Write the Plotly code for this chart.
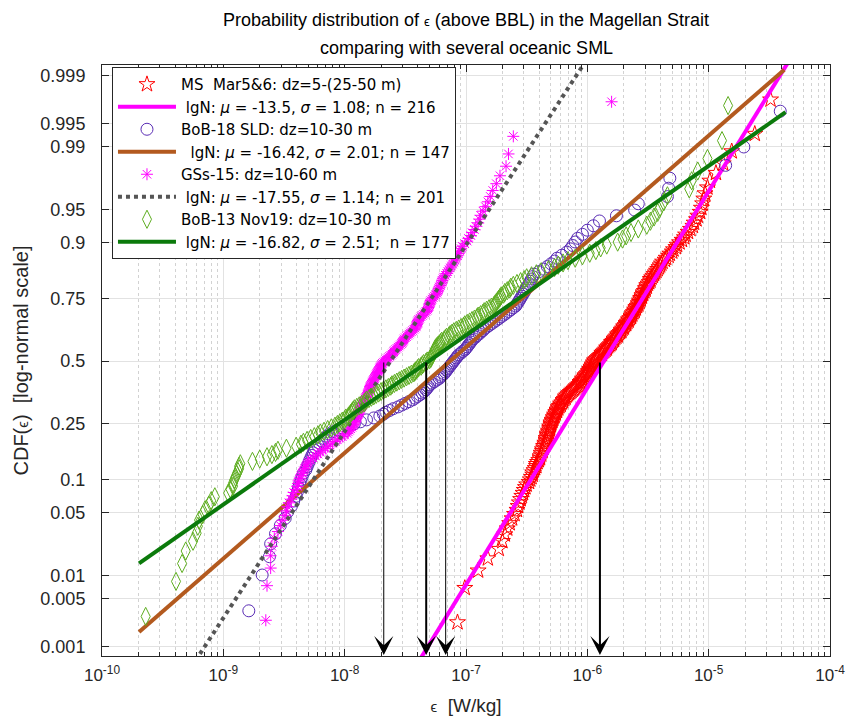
import math
from statistics import NormalDist
import plotly.graph_objects as go

ND = NormalDist()

# ---------------- data (log10 of epsilon, W/kg) ----------------
ms_log10 = [
    -7.07, -7.01, -6.90, -6.82, -6.73, -6.70, -6.68, -6.66, -6.64, -6.62,
    -6.60, -6.58, -6.57, -6.56, -6.55, -6.54, -6.53, -6.52, -6.51, -6.50, -6.48, -6.47,
    -6.46, -6.45, -6.45, -6.44, -6.43, -6.42, -6.42, -6.41, -6.40, -6.39,
    -6.39, -6.38, -6.38, -6.37, -6.37, -6.36, -6.36, -6.35, -6.35, -6.34, -6.34,
    -6.34, -6.33, -6.33, -6.33, -6.32, -6.32, -6.31, -6.31, -6.31, -6.30, -6.30,
    -6.30, -6.29, -6.29, -6.28, -6.28, -6.27, -6.27, -6.26, -6.26, -6.25, -6.25,
    -6.24, -6.24, -6.23, -6.22, -6.22, -6.21, -6.20, -6.20, -6.19, -6.18, -6.18,
    -6.17, -6.16, -6.15, -6.14, -6.13, -6.12, -6.11, -6.10, -6.09, -6.08, -6.07,
    -6.06, -6.06, -6.05, -6.04, -6.04, -6.03, -6.02, -6.02, -6.01, -6.00,
    -5.99, -5.99, -5.98, -5.98, -5.97, -5.97, -5.96, -5.96, -5.95, -5.95, -5.94,
    -5.94, -5.93, -5.92, -5.91, -5.90, -5.89, -5.88, -5.88, -5.87, -5.86, -5.85,
    -5.84, -5.84, -5.83, -5.82, -5.81, -5.80, -5.80, -5.79, -5.78, -5.78, -5.77,
    -5.76, -5.75, -5.75, -5.74, -5.73, -5.72, -5.72, -5.71, -5.70, -5.70, -5.69,
    -5.68, -5.68, -5.67, -5.66, -5.66, -5.65, -5.64, -5.64, -5.63, -5.63, -5.62,
    -5.61, -5.61, -5.60, -5.60, -5.59, -5.58, -5.58, -5.57, -5.57, -5.56,
    -5.56, -5.55, -5.55, -5.54, -5.54, -5.53, -5.52, -5.52, -5.51, -5.51, -5.50,
    -5.49, -5.48, -5.48, -5.47, -5.46, -5.45, -5.44, -5.43, -5.42, -5.41, -5.40,
    -5.39, -5.38, -5.36, -5.35, -5.33, -5.32, -5.30, -5.29, -5.27, -5.26, -5.24,
    -5.22, -5.20, -5.19, -5.17, -5.15, -5.13, -5.12, -5.10, -5.09, -5.07,
    -5.06, -5.05, -5.04, -5.03, -5.01, -4.99,
    -4.94, -4.88, -4.81, -4.62, -4.49,
]

bob18_log10 = [
    -8.79, -8.68, -8.62, -8.61, -8.57, -8.53, -8.49, -8.47, -8.44, -8.42,
    -8.40, -8.39, -8.38, -8.37, -8.36, -8.35, -8.34, -8.32, -8.31, -8.30,
    -8.29, -8.28, -8.27, -8.26, -8.25, -8.24, -8.22, -8.21, -8.19, -8.17,
    -8.15, -8.13, -8.10, -8.06, -8.02, -7.97, -7.92, -7.87, -7.82, -7.76,
    -7.71, -7.68, -7.66, -7.63, -7.60, -7.56, -7.53, -7.50, -7.47, -7.44,
    -7.42, -7.40, -7.38, -7.36, -7.345, -7.33, -7.32, -7.31, -7.30, -7.28,
    -7.26, -7.24, -7.22, -7.21, -7.20, -7.18, -7.17, -7.16, -7.15, -7.14,
    -7.13, -7.12, -7.11, -7.10, -7.09, -7.08, -7.07, -7.06, -7.04, -7.03,
    -7.01, -7.00, -6.99, -6.98, -6.97, -6.96, -6.95, -6.94, -6.92, -6.91,
    -6.89, -6.88, -6.86, -6.85, -6.83, -6.81, -6.79, -6.77, -6.75, -6.73,
    -6.71, -6.69, -6.67, -6.65, -6.63, -6.61, -6.59, -6.58, -6.57, -6.56,
    -6.55, -6.54, -6.53, -6.52, -6.51, -6.50, -6.49, -6.48, -6.47, -6.46,
    -6.45, -6.44, -6.40, -6.36, -6.33, -6.30, -6.27, -6.25, -6.21, -6.17,
    -6.14, -6.12, -6.10, -6.08, -6.04, -6.00, -5.95, -5.90, -5.76, -5.61,
    -5.58, -5.34, -5.33, -5.32, -4.86, -4.71, -4.41,
]

gss15_log10 = [
    -8.65, -8.64, -8.61, -8.61, -8.60, -8.58, -8.55, -8.53, -8.51, -8.49,
    -8.48, -8.47, -8.46, -8.44, -8.43, -8.42, -8.40, -8.39, -8.385, -8.38,
    -8.37, -8.36, -8.35, -8.34, -8.33, -8.32, -8.31, -8.30, -8.28, -8.26,
    -8.24, -8.22, -8.20, -8.18, -8.16, -8.14, -8.12, -8.10, -8.08, -8.06,
    -8.04, -8.02, -8.00, -7.98, -7.97, -7.96, -7.95, -7.94, -7.93, -7.925,
    -7.92, -7.915, -7.91, -7.905, -7.90, -7.895, -7.89, -7.885, -7.88, -7.875,
    -7.87, -7.865, -7.86, -7.855, -7.85, -7.845, -7.84, -7.835, -7.83, -7.825,
    -7.82, -7.815, -7.81, -7.805, -7.80, -7.80, -7.795, -7.79, -7.79, -7.785,
    -7.78, -7.775, -7.77, -7.765, -7.76, -7.755, -7.75, -7.745, -7.74, -7.735,
    -7.73, -7.725, -7.72, -7.715, -7.71, -7.705, -7.70, -7.695, -7.69, -7.68,
    -7.67, -7.66, -7.65, -7.64, -7.63, -7.62, -7.61, -7.60, -7.595, -7.59,
    -7.58, -7.57, -7.56, -7.55, -7.54, -7.53, -7.525, -7.52, -7.515, -7.51,
    -7.50, -7.49, -7.48, -7.47, -7.46, -7.45, -7.44, -7.43, -7.42, -7.41,
    -7.41, -7.405, -7.40, -7.40, -7.395, -7.39, -7.38, -7.37, -7.36, -7.35,
    -7.34, -7.33, -7.32, -7.315, -7.31, -7.305, -7.30, -7.30, -7.295, -7.29,
    -7.28, -7.27, -7.26, -7.25, -7.24, -7.235, -7.23, -7.225, -7.22, -7.21,
    -7.205, -7.20, -7.195, -7.19, -7.185, -7.17, -7.16, -7.15, -7.14, -7.13,
    -7.12, -7.11, -7.10, -7.09, -7.08, -7.07, -7.06, -7.05, -7.04, -7.03,
    -7.01, -6.99, -6.98, -6.96, -6.95, -6.93, -6.92, -6.90, -6.89, -6.88,
    -6.86, -6.84, -6.82, -6.80, -6.78, -6.75, -6.72, -6.67, -6.65, -6.61, -5.80,
]

bob13_log10 = [
    -9.64, -9.39, -9.34, -9.31, -9.25, -9.22, -9.21, -9.20, -9.17, -9.15,
    -9.12, -9.10, -9.07, -8.96, -8.94, -8.92, -8.92, -8.91, -8.90, -8.89,
    -8.88, -8.87, -8.87, -8.86, -8.76, -8.70, -8.64, -8.60, -8.57, -8.55,
    -8.48, -8.40, -8.36, -8.34, -8.31, -8.28, -8.25, -8.22, -8.20, -8.17,
    -8.14, -8.11, -8.08, -8.06, -8.04, -8.02, -8.00, -7.99, -7.97, -7.96,
    -7.95, -7.94, -7.93, -7.92, -7.90, -7.88, -7.86, -7.84, -7.83, -7.82,
    -7.80, -7.78, -7.76, -7.74, -7.72, -7.70, -7.68, -7.66, -7.64, -7.62,
    -7.61, -7.59, -7.57, -7.55, -7.53, -7.51, -7.49, -7.47, -7.45, -7.43,
    -7.42, -7.41, -7.40, -7.39, -7.37, -7.36, -7.35, -7.33, -7.32, -7.30,
    -7.29, -7.285, -7.28, -7.275, -7.27, -7.265, -7.26, -7.255, -7.25, -7.24,
    -7.23, -7.22, -7.21, -7.20, -7.18, -7.17, -7.16, -7.14, -7.13, -7.115,
    -7.10, -7.08, -7.06, -7.04, -7.02, -7.01, -6.99, -6.97, -6.95, -6.93,
    -6.91, -6.90, -6.88, -6.86, -6.85, -6.83, -6.81, -6.79, -6.77, -6.76,
    -6.75, -6.74, -6.73, -6.72, -6.71, -6.69, -6.68, -6.66, -6.64, -6.63,
    -6.61, -6.58, -6.55, -6.52, -6.50, -6.46, -6.42, -6.38, -6.32, -6.27,
    -6.24, -6.20, -6.16, -6.10, -6.04, -5.98, -5.93, -5.89, -5.84, -5.75,
    -5.71, -5.68, -5.64, -5.58, -5.51, -5.48, -5.45, -5.42, -5.40, -5.37,
    -5.34, -5.16, -5.14, -5.09, -5.01, -4.89, -4.84,
]

# lognormal fit parameters (natural log), from the legend
fit_mu = [-13.5, -16.42, -17.55, -16.82]
fit_sigma = [1.08, 2.01, 1.14, 2.51]
fit_n = [216, 147, 201, 177]
# epsilon extent of each fit line
fit_eps_lo = [4.0e-8, 2.02e-10, 5.0e-10, 2.02e-10]
fit_eps_hi = [4.6e-5, 4.2e-5, 2.0e-6, 4.3e-5]

# arrows: epsilon where each arrow points (median markers)
arrow_eps = [2.1e-8, 4.7e-8, 6.8e-8, 1.27e-6]
arrow_thick = [False, True, False, True]

cdf_ticks = [0.001, 0.005, 0.01, 0.05, 0.1, 0.25, 0.5, 0.75, 0.9, 0.95, 0.99, 0.995, 0.999]
cdf_tick_labels = ["0.001", "0.005", "0.01", "0.05", "0.1", "0.25", "0.5", "0.75",
                   "0.9", "0.95", "0.99", "0.995", "0.999"]
x_decades = [-10, -9, -8, -7, -6, -5, -4]

title_lines = [
    "Probability distribution of <span style='font-size:13px'>ϵ</span> (above BBL) in the Magellan Strait",
    "comparing with several oceanic SML",
]
scatter_names = [
    "MS  Mar5&amp;6: dz=5-(25-50 m)",
    "BoB-18 SLD: dz=10-30 m",
    "GSs-15: dz=10-60 m",
    "BoB-13 Nov19: dz=10-30 m",
]
fit_names = [
    " lgN: <i>μ</i> = -13.5, <i>σ</i> = 1.08; n = 216",
    "  lgN: <i>μ</i> = -16.42, <i>σ</i> = 2.01; n = 147",
    " lgN: <i>μ</i> = -17.55, <i>σ</i> = 1.14; n = 201",
    " lgN: <i>μ</i> = -16.82, <i>σ</i> = 2.51;  n = 177",
]

# ---------------- styles ----------------
marker_symbols = ["star-open", "circle-open", "asterisk-open", "diamond-tall-open"]
marker_colors = ["#ff0000", "#5a2db5", "#ff00ff", "#5fae22"]
marker_sizes = [12, 12, 10, 13]
line_colors = ["#ff00ff", "#b35a1f", "#555555", "#0b7a0b"]
line_dashes = ["solid", "solid", "dot", "solid"]

series = [ms_log10, bob18_log10, gss15_log10, bob13_log10]


def probit(p):
    return ND.inv_cdf(p)


fig = go.Figure()
for k in range(4):
    vals = sorted(series[k])
    n = len(vals)
    xs = [10 ** v for v in vals]
    ys = [probit((i + 0.5) / n) for i in range(n)]
    fig.add_trace(go.Scatter(
        x=xs, y=ys, mode="markers", name=scatter_names[k],
        marker=dict(symbol=marker_symbols[k], color=marker_colors[k], size=marker_sizes[k],
                    line=dict(width=1, color=marker_colors[k])),
        cliponaxis=True,
    ))
    ex = [fit_eps_lo[k], fit_eps_hi[k]]
    ey = [(math.log(e) - fit_mu[k]) / fit_sigma[k] for e in ex]
    fig.add_trace(go.Scatter(
        x=ex, y=ey, mode="lines", name=fit_names[k],
        line=dict(color=line_colors[k], width=4, dash=line_dashes[k]),
    ))

y_top = 3.207
y_bot = -3.196

font_family = "Liberation Sans, Arial, Helvetica, sans-serif"
legend_family = "DejaVu Sans, Liberation Sans, sans-serif"
axis_color = "#262626"

annotations = []
for e, thick in zip(arrow_eps, arrow_thick):
    lx = math.log10(e)
    annotations.append(dict(
        x=lx, y=y_bot + 0.01, ax=lx, ay=probit(0.5),
        xref="x", yref="y", axref="x", ayref="y",
        text="", showarrow=True, arrowhead=3,
        arrowwidth=2 if thick else 1,
        arrowsize=1.6 if thick else 3.2,
        arrowcolor="black", standoff=0,
    ))
# two-line title
for line_text, ypx in zip(title_lines, [20, 48]):
    annotations.append(dict(
        text=line_text, x=0.5, xref="paper", xanchor="center",
        y=(656 - ypx) / 591.0, yref="paper", yanchor="middle",
        showarrow=False, font=dict(size=18, color="black", family=font_family),
    ))

minor_vals = [m * 10.0 ** d for d in x_decades[:-1] for m in range(2, 10)]

fig.update_layout(
    width=858, height=716,
    margin=dict(l=102, r=28, t=65, b=60),
    paper_bgcolor="white", plot_bgcolor="white",
    font=dict(family=font_family, size=16, color=axis_color),
    showlegend=True,
    legend=dict(
        x=0.0137, y=0.9966, xanchor="left", yanchor="top",
        bgcolor="white", bordercolor=axis_color, borderwidth=1,
        font=dict(size=15, color="black", family=legend_family),
        tracegroupgap=0, itemwidth=58, itemsizing="trace",
    ),
    annotations=annotations,
)

fig.update_xaxes(
    type="log", range=[-10, -4],
    tickvals=[10.0 ** d for d in x_decades],
    ticktext=["10<sup>%d</sup>" % d for d in x_decades],
    ticks="inside", ticklen=7, tickcolor=axis_color, tickwidth=1,
    showline=True, linecolor=axis_color, linewidth=1, mirror="ticks",
    showgrid=True, gridcolor="#e2e2e2", gridwidth=1, zeroline=False,
    tickfont=dict(size=17, color=axis_color),
    ticklabelstandoff=4,
    minor=dict(tickvals=minor_vals, ticks="inside", ticklen=4, tickcolor=axis_color,
               showgrid=True, gridcolor="#d2d2d2", griddash="dot", gridwidth=1),
    title=dict(text="<span style='font-size:15px'>ϵ</span>  [W/kg]", standoff=15,
               font=dict(size=19, color=axis_color)),
    automargin=False,
)
fig.update_yaxes(
    range=[y_bot, y_top],
    tickvals=[probit(p) for p in cdf_ticks],
    ticktext=cdf_tick_labels,
    ticks="inside", ticklen=7, tickcolor=axis_color, tickwidth=1,
    showline=True, linecolor=axis_color, linewidth=1, mirror="ticks",
    showgrid=True, gridcolor="#e2e2e2", gridwidth=1, zeroline=False,
    tickfont=dict(size=18, color=axis_color),
    ticklabelstandoff=12,
    title=dict(text="CDF(<span style='font-size:15px'>ϵ</span>)  [log-normal scale]", standoff=6,
               font=dict(size=20, color=axis_color)),
    automargin=False,
)

fig.write_html("out.html")
